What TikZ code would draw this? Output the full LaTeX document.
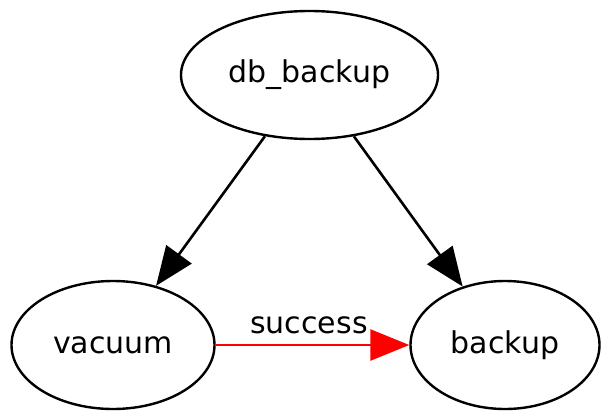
\documentclass[tikz,border=0pt]{standalone}
\usepackage{fontspec}
\setmainfont{DejaVu Sans}
\usetikzlibrary{shapes.geometric,arrows.meta}
\begin{document}
\begin{tikzpicture}[x=1pt,y=-1pt,
  state/.style={draw,ellipse,line width=2.4pt,inner sep=0pt,font=\fontsize{30}{34}\selectfont},
  edge/.style={line width=2.6pt,-{Triangle[length=39pt,width=31pt]}},
  lbl/.style={font=\fontsize{30}{34}\selectfont,inner sep=0pt}]
\useasboundingbox (0,0) rectangle (601,412);
\node[state,minimum width=257pt,minimum height=128pt] (db) at (309.5,75) {db\_backup};
\node[state,minimum width=203pt,minimum height=128pt] (vac) at (113,345) {vacuum};
\node[state,minimum width=189pt,minimum height=128pt] (bak) at (505,345) {backup};
\draw[edge] (db) -- (vac);
\draw[edge] (db) -- (bak);
\draw[edge,red] (vac.east) -- (bak.west);
\node[lbl] (succ) at (309,325) {success};
\end{tikzpicture}
\end{document}
